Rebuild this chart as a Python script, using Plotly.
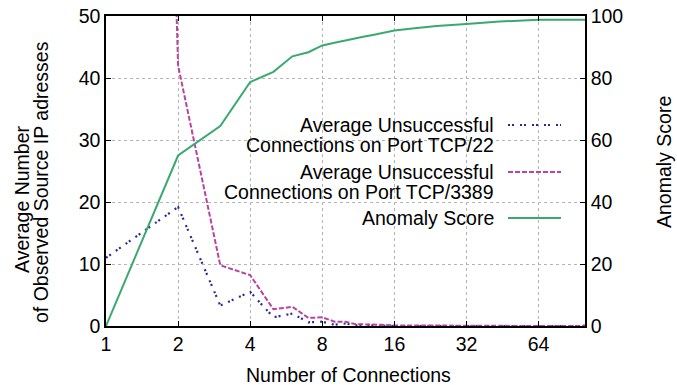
import plotly.graph_objects as go

# ---- data ----
x_tcp22 = [1, 2, 3, 4, 5, 6, 7, 8, 9, 10, 11, 12, 14, 16, 24, 32, 64, 99, 100]
y_tcp22 = [11.0, 19.2, 3.3, 5.5, 1.4, 2.0, 0.6, 0.7, 0.2, 0.4, 0.1, 0.2, 0.05, 0.0, 0.0, 0.0, 0.0, 0.0, 0.4]

x_tcp3389 = [1, 2, 3, 4, 5, 6, 7, 8, 9, 10, 11, 12, 14, 16, 24, 32, 64, 100]
y_tcp3389 = [440.0, 42.0, 9.8, 8.2, 2.7, 3.1, 1.3, 1.4, 0.7, 0.7, 0.3, 0.3, 0.2, 0.1, 0.05, 0.03, 0.0, 0.0]

x_score = [1, 2, 3, 4, 5, 6, 7, 8, 9, 10, 11, 12, 13, 14, 16, 19, 24, 32, 44, 64, 100]
y_score = [0, 55.0, 64.5, 78.7, 82.0, 87.0, 88.3, 90.5, 91.4, 92.2, 92.8, 93.4, 93.9, 94.4, 95.3, 96.0, 96.8, 97.4, 98.2, 98.8, 98.8]

x_ticks = [1, 2, 4, 8, 16, 32, 64]
y_ticks = [0, 10, 20, 30, 40, 50]
y2_ticks = [0, 20, 40, 60, 80, 100]

names = ["Average Unsuccessful<br>Connections on Port TCP/22",
         "Average Unsuccessful<br>Connections on Port TCP/3389",
         "Anomaly Score"]

C_BLUE = "#2a2a94"
C_MAG = "#b8449f"
C_GREEN = "#3aa970"
FONT = "Liberation Sans, Arial, sans-serif"
FS = 19.5
DOT = "2px,2px,2px,6px"
DASH = "5px,2px"

fig = go.Figure()
fig.add_trace(go.Scatter(x=x_tcp22, y=y_tcp22, mode="lines", name=names[0],
                         line=dict(color=C_BLUE, width=2.2, dash=DOT), showlegend=False))
fig.add_trace(go.Scatter(x=x_tcp3389, y=y_tcp3389, mode="lines", name=names[1],
                         line=dict(color=C_MAG, width=2, dash=DASH), showlegend=False))
fig.add_trace(go.Scatter(x=x_score, y=y_score, mode="lines", name=names[2], yaxis="y2",
                         line=dict(color=C_GREEN, width=2), showlegend=False))

# plot area in pixels: x 106..585, y 16..326
L, R, T, B = 106, 585, 16, 326
def px(xp):
    return (xp - L) / (R - L)
def py(yp):
    return (B - yp) / (B - T)

shapes = [
    dict(type="rect", xref="paper", yref="paper", x0=px(150), x1=px(573), y0=py(243), y1=py(100),
         fillcolor="white", line=dict(width=0), layer="between"),
    dict(type="line", xref="paper", yref="paper", x0=px(508), x1=px(561), y0=py(125), y1=py(125),
         line=dict(color=C_BLUE, width=2.2, dash=DOT)),
    dict(type="line", xref="paper", yref="paper", x0=px(508), x1=px(561), y0=py(172), y1=py(172),
         line=dict(color=C_MAG, width=2, dash=DASH)),
    dict(type="line", xref="paper", yref="paper", x0=px(508), x1=px(561), y0=py(218), y1=py(218),
         line=dict(color=C_GREEN, width=2)),
]

ann = []
key_lines = [("Average Unsuccessful", 125), ("Connections on Port TCP/22", 145),
             ("Average Unsuccessful", 172), ("Connections on Port TCP/3389", 192),
             ("Anomaly Score", 218)]
for txt, yp in key_lines:
    ann.append(dict(text=txt, xref="paper", yref="paper", x=px(496), y=py(yp),
                    xanchor="right", yanchor="middle", showarrow=False,
                    font=dict(family=FONT, size=FS, color="black")))
ann.append(dict(text="Average Number", xref="paper", yref="paper", x=px(22), y=py(199),
                xanchor="center", yanchor="middle", textangle=-90, showarrow=False,
                font=dict(family=FONT, size=FS, color="black")))
ann.append(dict(text="of Observed Source IP adresses", xref="paper", yref="paper", x=px(41), y=py(182),
                xanchor="center", yanchor="middle", textangle=-90, showarrow=False,
                font=dict(family=FONT, size=FS, color="black")))
ann.append(dict(text="Anomaly Score", xref="paper", yref="paper", x=px(664), y=py(162),
                xanchor="center", yanchor="middle", textangle=-90, showarrow=False,
                font=dict(family=FONT, size=FS, color="black")))
ann.append(dict(text="Number of Connections", xref="paper", yref="paper", x=px(348), y=py(375),
                xanchor="center", yanchor="middle", showarrow=False,
                font=dict(family=FONT, size=FS, color="black")))

fig.update_layout(
    width=677, height=385,
    margin=dict(l=L, r=677 - R, t=T, b=385 - B, autoexpand=False),
    plot_bgcolor="white", paper_bgcolor="white",
    font=dict(family=FONT, size=FS, color="black"),
    shapes=shapes, annotations=ann,
    xaxis=dict(type="log", range=[0, 2], tickvals=x_ticks, ticktext=[str(v) for v in x_ticks],
               showgrid=True, gridcolor="#b5b5b5", griddash="dot", gridwidth=1,
               showline=True, linecolor="black", linewidth=1.5, mirror="ticks",
               ticks="inside", ticklen=5, tickcolor="black", zeroline=False, automargin=False),
    yaxis=dict(range=[0, 50], tickvals=y_ticks,
               showgrid=True, gridcolor="#b5b5b5", griddash="dot", gridwidth=1,
               showline=True, linecolor="black", linewidth=1.5,
               ticks="inside", ticklen=5, tickcolor="black", zeroline=False, automargin=False),
    yaxis2=dict(range=[0, 100], tickvals=y2_ticks, overlaying="y", side="right",
                showgrid=False, showline=True, linecolor="black", linewidth=1.5,
                ticks="inside", ticklen=5, tickcolor="black", zeroline=False, automargin=False),
)

fig.write_html("out.html")
